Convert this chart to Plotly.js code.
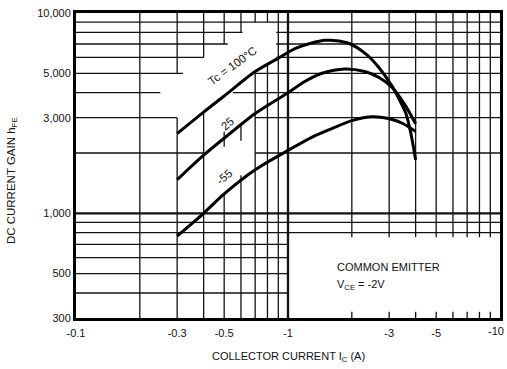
<!DOCTYPE html>
<html>
<head>
<meta charset="utf-8">
<script src="https://cdn.plot.ly/plotly-3.0.1.min.js"></script>
<style>
  html, body { margin: 0; padding: 0; background: #fff; }
  #chart { width: 507px; height: 369px; }
</style>
</head>
<body>
<div id="chart"></div>
<script>
// ---- data ----
const icTicks = [0.1, 0.3, 0.5, 1, 3, 5, 10];
const icTickLabels = ['-0.1', '-0.3', '-0.5', '-1', '-3', '-5', '-10'];
const hfeTicks = [300, 500, 1000, 3000, 5000, 10000];
const hfeTickLabels = ['300', '500', '1,000', '3,000', '5,000', '10,000'];

const ic100 = [0.3, 0.4, 0.5, 0.7, 0.9, 1.1, 1.5, 1.9, 2.35, 2.7, 3.1, 3.35, 3.6, 3.8, 4.0];
const hfe100 = [2500, 3200, 3850, 5100, 5950, 6700, 7300, 7100, 6200, 5300, 4300, 3700, 3150, 2500, 1850];

const ic25 = [0.3, 0.4, 0.5, 0.7, 1.0, 1.2, 1.45, 1.85, 2.3, 2.7, 3.1, 3.55, 4.0];
const hfe25 = [1470, 1950, 2370, 3150, 4000, 4550, 5000, 5250, 5100, 4750, 4250, 3500, 2800];

const icM55 = [0.3, 0.4, 0.5, 0.7, 1.0, 1.3, 1.6, 2.0, 2.5, 3.1, 3.5, 4.0];
const hfeM55 = [770, 1000, 1250, 1650, 2060, 2400, 2640, 2900, 3030, 2940, 2800, 2560];

// ---- chart-paper grid (partial lines, as printed) ----
const gridH = [
  [400, [[0.1, 1]]], [500, [[0.1, 1]]], [600, [[0.1, 1]]], [700, [[0.1, 1]]],
  [800, [[0.1, 10]]], [900, [[0.1, 10]]],
  [2000, [[0.1, 0.4], [0.7, 10]]],
  [3000, [[0.1, 0.3], [0.7, 10]]],
  [4000, [[0.1, 0.25], [0.55, 10]]],
  [5000, [[0.1, 0.32], [0.7, 10]]],
  [6000, [[0.1, 0.4], [0.88, 10]]],
  [7000, [[0.1, 0.52], [0.88, 10]]],
  [8000, [[0.1, 0.61], [0.88, 10]]],
  [9000, [[0.1, 10]]]
];
const gridHThick = [[1000, [[0.1, 10]]]];
const gridV = [
  [0.2, [[300, 10000]]],
  [0.3, [[300, 3000], [5000, 10000]]],
  [0.4, [[300, 3150], [6000, 10000]]],
  [0.5, [[300, 1250], [2150, 2550], [7000, 10000]]],
  [0.6, [[300, 1550], [2300, 2800], [8000, 10000]]],
  [0.7, [[300, 5100], [9000, 10000]]],
  [0.8, [[300, 5600], [9000, 10000]]],
  [0.9, [[300, 10000]]],
  [2, [[300, 322], [760, 10000]]], [3, [[300, 322], [760, 10000]]],
  [4, [[300, 322], [760, 10000]]], [5, [[300, 322], [760, 10000]]],
  [6, [[300, 322], [760, 10000]]], [7, [[300, 322], [760, 10000]]],
  [8, [[300, 322], [760, 10000]]], [9, [[300, 322], [760, 10000]]]
];
const gridVThick = [[1, [[300, 10000]]]];

function gridTrace(hList, vList, width) {
  const xs = [], ys = [];
  hList.forEach(([yv, segs]) => segs.forEach(([a, b]) => { xs.push(a, b, null); ys.push(yv, yv, null); }));
  vList.forEach(([xv, segs]) => segs.forEach(([a, b]) => { xs.push(xv, xv, null); ys.push(a, b, null); }));
  return { x: xs, y: ys, mode: 'lines', line: { color: '#111', width: width }, hoverinfo: 'skip', showlegend: false };
}

function curve(x, y, name) {
  return { x: x, y: y, name: name, mode: 'lines', line: { color: '#000', width: 3, shape: 'spline', smoothing: 0.8 }, showlegend: false };
}

const font = { family: 'Liberation Sans, Arial, Helvetica, sans-serif', color: '#111', size: 11 };

const data = [
  gridTrace(gridH, gridV, 1.3),
  gridTrace(gridHThick, gridVThick, 2.3),
  curve(ic100, hfe100, 'Tc = 100°C'),
  curve(ic25, hfe25, '25'),
  curve(icM55, hfeM55, '-55')
];

// the last x tick label sits at the page edge: draw it right-aligned so it stays inside
const nX = icTicks.length;

const layout = {
  width: 507, height: 369,
  margin: { l: 76, r: 7, t: 13, b: 51 },
  paper_bgcolor: '#fff', plot_bgcolor: '#fff',
  font: font,
  showlegend: false,
  xaxis: {
    type: 'log', range: [-1, 1],
    tickvals: icTicks.slice(0, nX - 1), ticktext: icTickLabels.slice(0, nX - 1),
    showgrid: false, zeroline: false, ticks: '',
    showline: true, mirror: true, linewidth: 3, linecolor: '#000',
    tickfont: { size: 11 }, ticklabelstandoff: 3
  },
  yaxis: {
    type: 'log', range: [Math.log10(300), 4],
    tickvals: hfeTicks, ticktext: hfeTickLabels,
    showgrid: false, zeroline: false, ticks: '',
    showline: true, mirror: true, linewidth: 3, linecolor: '#000',
    tickfont: { size: 11 }, ticklabeloverflow: 'allow'
  },
  annotations: [
    { xref: 'paper', yref: 'paper', x: 1.0135, y: -0.044, xanchor: 'right', yanchor: 'middle',
      text: icTickLabels[nX - 1], showarrow: false, font: { size: 11 } },
    { xref: 'paper', yref: 'paper', x: 0.502, y: -0.128, xanchor: 'center', yanchor: 'middle',
      text: 'COLLECTOR CURRENT I<sub>C</sub> (A)', showarrow: false, font: { size: 11 } },
    { xref: 'paper', yref: 'paper', x: -0.151, y: 0.452, xanchor: 'center', yanchor: 'middle',
      text: 'DC CURRENT GAIN h<sub>FE</sub>', textangle: -90, showarrow: false, font: { size: 11.5 } },
    { x: Math.log10(0.545), y: Math.log10(5450), text: 'Tc = 100°C', textangle: -36, showarrow: false,
      font: { size: 11.5 } },
    { x: Math.log10(0.516), y: Math.log10(2800), text: '25', textangle: -40, showarrow: false, font: { size: 11.5 } },
    { x: Math.log10(0.5), y: Math.log10(1520), text: '-55', textangle: -40, showarrow: false, font: { size: 11.5 } },
    { xref: 'paper', yref: 'paper', x: 0.611, y: 0.167, xanchor: 'left', yanchor: 'middle',
      text: 'COMMON EMITTER', showarrow: false, font: { size: 11 } },
    { xref: 'paper', yref: 'paper', x: 0.611, y: 0.108, xanchor: 'left', yanchor: 'middle',
      text: 'V<sub>CE</sub> = -2V', showarrow: false, font: { size: 11 } }
  ]
};

Plotly.newPlot('chart', data, layout, { displayModeBar: false, staticPlot: true });
</script>
</body>
</html>
